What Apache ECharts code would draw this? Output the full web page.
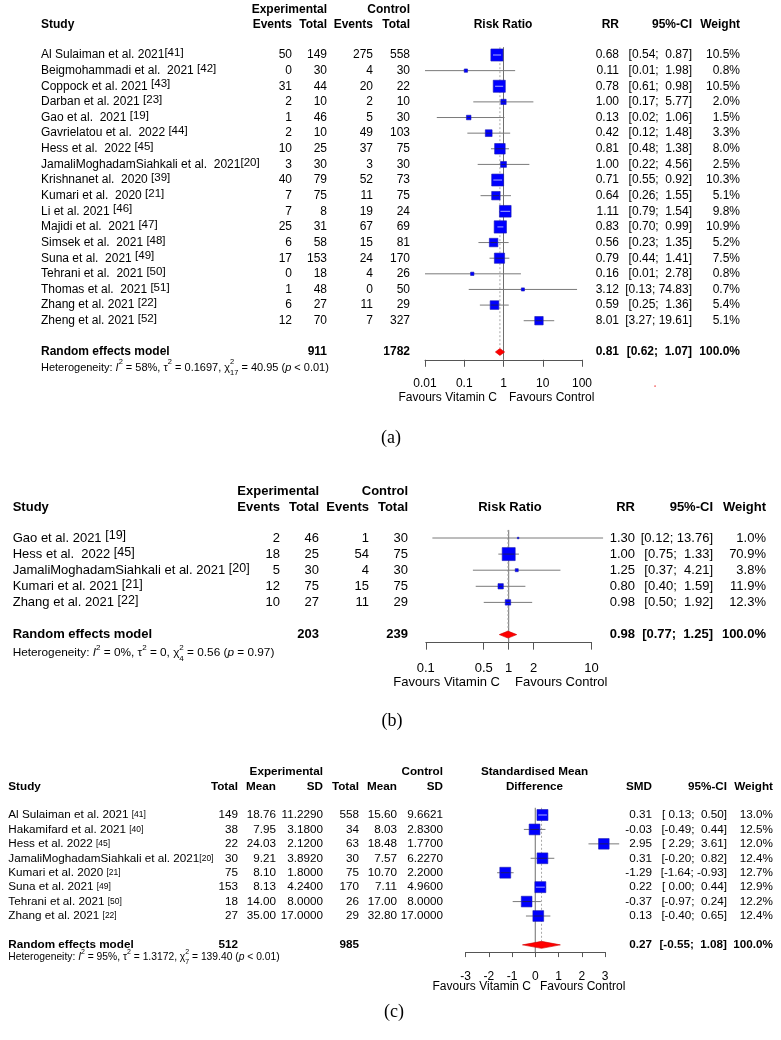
<!DOCTYPE html>
<html><head><meta charset="utf-8">
<script src="https://cdn.jsdelivr.net/npm/echarts@6/dist/echarts.min.js"></script>
<style>html,body{margin:0;padding:0;background:#fff}#c{width:781px;height:1040px}</style>
</head><body><div id="c"></div>
<script>
// ================= DATA =================
// ---- Panel (a): mortality, risk ratio
const aStudies = ["Al Sulaiman et al. 2021","Beigmohammadi et al.  2021 ","Coppock et al. 2021 ","Darban et al. 2021 ","Gao et al.  2021 ","Gavrielatou et al.  2022 ","Hess et al.  2022 ","JamaliMoghadamSiahkali et al.  2021","Krishnanet al.  2020 ","Kumari et al.  2020 ","Li et al. 2021 ","Majidi et al.  2021 ","Simsek et al.  2021 ","Suna et al.  2021 ","Tehrani et al.  2021 ","Thomas et al.  2021 ","Zhang et al. 2021 ","Zheng et al. 2021 "];
const aRefs = ["[41]","[42]","[43]","[23]","[19]","[44]","[45]","[20]","[39]","[21]","[46]","[47]","[48]","[49]","[50]","[51]","[22]","[52]"];
const aExpEvents = [50,0,31,2,1,2,10,3,40,7,7,25,6,17,0,1,6,12];
const aExpTotal  = [149,30,44,10,46,10,25,30,79,75,8,31,58,153,18,48,27,70];
const aCtrlEvents= [275,4,20,2,5,49,37,3,52,11,19,67,15,24,4,0,11,7];
const aCtrlTotal = [558,30,22,10,30,103,75,30,73,75,24,69,81,170,26,50,29,327];
const aRR   = [0.68,0.11,0.78,1.00,0.13,0.42,0.81,1.00,0.71,0.64,1.11,0.83,0.56,0.79,0.16,3.12,0.59,8.01];
const aLow  = [0.54,0.01,0.61,0.17,0.02,0.12,0.48,0.22,0.55,0.26,0.79,0.70,0.23,0.44,0.01,0.13,0.25,3.27];
const aHigh = [0.87,1.98,0.98,5.77,1.06,1.48,1.38,4.56,0.92,1.55,1.54,0.99,1.35,1.41,2.78,74.83,1.36,19.61];
const aWeight = [10.5,0.8,10.5,2.0,1.5,3.3,8.0,2.5,10.3,5.1,9.8,10.9,5.2,7.5,0.8,0.7,5.4,5.1];
const aPooled = [0.81,0.62,1.07];
const aTotals = [911,1782];
const aHet = {i2:58, tau2:0.1697, df:17, chi2:40.95, p:"< 0.01"};
const aTicks = [0.01,0.1,1,10,100];

// ---- Panel (b): risk ratio
const bStudies = ["Gao et al. 2021 ","Hess et al.  2022 ","JamaliMoghadamSiahkali et al. 2021 ","Kumari et al. 2021 ","Zhang et al. 2021 "];
const bRefs = ["[19]","[45]","[20]","[21]","[22]"];
const bExpEvents = [2,18,5,12,10];
const bExpTotal  = [46,25,30,75,27];
const bCtrlEvents= [1,54,4,15,11];
const bCtrlTotal = [30,75,30,75,29];
const bRR   = [1.30,1.00,1.25,0.80,0.98];
const bLow  = [0.12,0.75,0.37,0.40,0.50];
const bHigh = [13.76,1.33,4.21,1.59,1.92];
const bWeight = [1.0,70.9,3.8,11.9,12.3];
const bPooled = [0.98,0.77,1.25];
const bTotals = [203,239];
const bHet = {i2:0, tau2:0, df:4, chi2:0.56, p:"= 0.97"};
const bTicks = [0.1,0.5,1,2,10];

// ---- Panel (c): standardised mean difference
const cStudies = ["Al Sulaiman et al. 2021 ","Hakamifard et al. 2021 ","Hess et al. 2022 ","JamaliMoghadamSiahkali et al. 2021","Kumari et al. 2020 ","Suna et al. 2021 ","Tehrani et al. 2021 ","Zhang et al. 2021 "];
const cRefs = ["[41]","[40]","[45]","[20]","[21]","[49]","[50]","[22]"];
const cExpTotal = [149,38,22,30,75,153,18,27];
const cExpMean  = [18.76,7.95,24.03,9.21,8.10,8.13,14.00,35.00];
const cExpSD    = [11.2290,3.1800,2.1200,3.8920,1.8000,4.2400,8.0000,17.0000];
const cCtrlTotal= [558,34,63,30,75,170,26,29];
const cCtrlMean = [15.60,8.03,18.48,7.57,10.70,7.11,17.00,32.80];
const cCtrlSD   = [9.6621,2.8300,1.7700,6.2270,2.2000,4.9600,8.0000,17.0000];
const cSMD  = [0.31,-0.03,2.95,0.31,-1.29,0.22,-0.37,0.13];
const cLow  = [0.13,-0.49,2.29,-0.20,-1.64,0.00,-0.97,-0.40];
const cHigh = [0.50,0.44,3.61,0.82,-0.93,0.44,0.24,0.65];
const cWeight = [13.0,12.5,12.0,12.4,12.7,12.9,12.2,12.4];
const cPooled = [0.27,-0.55,1.08];
const cTotals = [512,985];
const cHet = {i2:95, tau2:1.3172, df:7, chi2:139.40, p:"< 0.01"};
const cTicks = [-3,-2,-1,0,1,2,3];

// ================= LAYOUT / STYLE =================
const SANS = "'Liberation Sans', Arial, Helvetica, sans-serif";
const SERIF = "'Liberation Serif', 'Times New Roman', serif";
const LA = {y0:55, h:15.63, fs:12, hetFs:11, favFs:12, studyX:41, hdr1:-2.88, hdr2:-1.92, pooledRow:19, axisRow:19.5,
  hetRow:20, favRow:21.95, capRow:24.5, capX:391, tmin:-3.5, tmax:26, refSize:11.5, padLo:false,
  cols:{ev1:292, tot1:327, ev2:373, tot2:410, est:619, ciR:692, wt:740},
  hdrPlotX:503, favL:497, favR:509, maxBox:12.3, dh:3.5,
  plot:{left:425, width:157, min:-2, max:2, tickLen:7, margin:18, fs:12}};
const LB = {y0:538, h:16.1, fs:13, hetFs:11.8, favFs:13, studyX:12.7, hdr1:-2.92, hdr2:-1.93, pooledRow:6, axisRow:6.5,
  hetRow:7.14, favRow:9.0, capRow:11.4, capX:392, tmin:-3.5, tmax:13, refSize:12.5, padLo:false,
  cols:{ev1:280, tot1:319, ev2:369, tot2:408, est:635, ciR:713, wt:766},
  hdrPlotX:510, favL:500, favR:515, maxBox:13, dh:3.5,
  plot:{left:425.8, width:165.8, min:-1, max:1, tickLen:7, margin:19, fs:13}};
const LC = {y0:815, h:14.43, fs:11.7, hetFs:10.3, favFs:12, studyX:8.3, hdr1:-2.98, hdr2:-1.94, pooledRow:9, axisRow:9.5,
  hetRow:9.84, favRow:11.92, capRow:13.65, capX:394, tmin:-3.5, tmax:15.5, refSize:8.5, padLo:true,
  cols:{tot1:238, mean1:276, sd1:323, tot2:359, mean2:397, sd2:443, est:652, ciR:727, wt:773},
  hdrPlotX:534.5, favL:531, favR:540, maxBox:11, dh:3.5,
  plot:{left:465.5, width:139.5, min:-3, max:3, tickLen:5, margin:19, fs:12}};

const log10 = v => Math.log10(v);
const ident = v => v;
const f2 = v => v.toFixed(2);
const fmtTau = v => v === 0 ? "0" : v.toFixed(4);
function ciText(L, lo, hi){
  const l = L.padLo ? f2(lo).padStart(5, ' ') : f2(lo);
  return '[' + l + '; ' + f2(hi).padStart(5, ' ') + ']';
}
function hetText(h){
  return "Heterogeneity: {it|I}{sup|2} = " + h.i2 + "%, \u03c4{sup|2} = " + fmtTau(h.tau2) +
    ", \u03c7{sup0|2}{sub|" + h.df + "} = " + h.chi2.toFixed(2) + " ({it|p} " + h.p + ")";
}

// ================= CELLS =================
function makeAdder(L, cells){
  return (x,row,text,o) => cells.push(Object.assign({x:x,row:row,text:text,align:'right',size:L.fs,bold:false}, o||{}));
}
function commonTail(L, add, het, caption){
  add(L.studyX, L.hetRow, hetText(het), {align:'left', size:L.hetFs, rich:'het'});
  add(L.favL, L.favRow, 'Favours Vitamin C', {size:L.favFs});
  add(L.favR, L.favRow, 'Favours Control', {align:'left', size:L.favFs});
  add(L.capX, L.capRow, caption, {align:'center', family:SERIF, size:18});
}
function estCells(L, add, i, est, lo, hi, w, bold){
  const c = L.cols, o = bold ? {bold:true} : {};
  add(c.est, i, f2(est), o);
  add(c.ciR, i, ciText(L, lo, hi), o);
  add(c.wt, i, w.toFixed(1) + '%', o);
}
function rrCells(L, d){
  const cells = [], add = makeAdder(L, cells), c = L.cols, B = {bold:true};
  add(c.tot1, L.hdr1, 'Experimental', B); add(c.tot2, L.hdr1, 'Control', B);
  add(L.studyX, L.hdr2, 'Study', {bold:true, align:'left'});
  add(c.ev1, L.hdr2, 'Events', B); add(c.tot1, L.hdr2, 'Total', B);
  add(c.ev2, L.hdr2, 'Events', B); add(c.tot2, L.hdr2, 'Total', B);
  add(L.hdrPlotX, L.hdr2, 'Risk Ratio', {bold:true, align:'center'});
  add(c.est, L.hdr2, 'RR', B); add(c.ciR, L.hdr2, '95%-CI', B); add(c.wt, L.hdr2, 'Weight', B);
  d.names.forEach((n,i) => {
    add(L.studyX, i, n + '{ref|' + d.refs[i] + '}', {align:'left', rich:'ref'});
    add(c.ev1, i, String(d.e1[i])); add(c.tot1, i, String(d.n1[i]));
    add(c.ev2, i, String(d.e2[i])); add(c.tot2, i, String(d.n2[i]));
    estCells(L, add, i, d.est[i], d.lo[i], d.hi[i], d.w[i], false);
  });
  const r = L.pooledRow;
  add(L.studyX, r, 'Random effects model', {bold:true, align:'left'});
  add(c.tot1, r, String(d.totals[0]), B); add(c.tot2, r, String(d.totals[1]), B);
  estCells(L, add, r, d.pooled[0], d.pooled[1], d.pooled[2], 100, true);
  commonTail(L, add, d.het, d.caption);
  return cells;
}
function smdCells(L, d){
  const cells = [], add = makeAdder(L, cells), c = L.cols, B = {bold:true};
  add(c.sd1, L.hdr1, 'Experimental', B); add(c.sd2, L.hdr1, 'Control', B);
  add(L.hdrPlotX, L.hdr1, 'Standardised Mean', {bold:true, align:'center'});
  add(L.studyX, L.hdr2, 'Study', {bold:true, align:'left'});
  add(c.tot1, L.hdr2, 'Total', B); add(c.mean1, L.hdr2, 'Mean', B); add(c.sd1, L.hdr2, 'SD', B);
  add(c.tot2, L.hdr2, 'Total', B); add(c.mean2, L.hdr2, 'Mean', B); add(c.sd2, L.hdr2, 'SD', B);
  add(L.hdrPlotX, L.hdr2, 'Difference', {bold:true, align:'center'});
  add(c.est, L.hdr2, 'SMD', B); add(c.ciR, L.hdr2, '95%-CI', B); add(c.wt, L.hdr2, 'Weight', B);
  d.names.forEach((n,i) => {
    add(L.studyX, i, n + '{ref|' + d.refs[i] + '}', {align:'left', rich:'ref'});
    add(c.tot1, i, String(d.n1[i])); add(c.mean1, i, f2(d.m1[i])); add(c.sd1, i, d.s1[i].toFixed(4));
    add(c.tot2, i, String(d.n2[i])); add(c.mean2, i, f2(d.m2[i])); add(c.sd2, i, d.s2[i].toFixed(4));
    estCells(L, add, i, d.est[i], d.lo[i], d.hi[i], d.w[i], false);
  });
  const r = L.pooledRow;
  add(L.studyX, r, 'Random effects model', {bold:true, align:'left'});
  add(c.tot1, r, String(d.totals[0]), B); add(c.tot2, r, String(d.totals[1]), B);
  estCells(L, add, r, d.pooled[0], d.pooled[1], d.pooled[2], 100, true);
  commonTail(L, add, d.het, d.caption);
  return cells;
}

const A = {names:aStudies, refs:aRefs, e1:aExpEvents, n1:aExpTotal, e2:aCtrlEvents, n2:aCtrlTotal,
  est:aRR, lo:aLow, hi:aHigh, w:aWeight, pooled:aPooled, totals:aTotals, het:aHet, caption:'(a)', ticks:aTicks, tx:log10, nullVal:1};
const Bd = {names:bStudies, refs:bRefs, e1:bExpEvents, n1:bExpTotal, e2:bCtrlEvents, n2:bCtrlTotal,
  est:bRR, lo:bLow, hi:bHigh, w:bWeight, pooled:bPooled, totals:bTotals, het:bHet, caption:'(b)', ticks:bTicks, tx:log10, nullVal:1};
const Cd = {names:cStudies, refs:cRefs, n1:cExpTotal, m1:cExpMean, s1:cExpSD, n2:cCtrlTotal, m2:cCtrlMean, s2:cCtrlSD,
  est:cSMD, lo:cLow, hi:cHigh, w:cWeight, pooled:cPooled, totals:cTotals, het:cHet, caption:'(c)', ticks:cTicks, tx:ident, nullVal:0};

const panels = [
  {L:LA, d:A, cells:rrCells(LA, A)},
  {L:LB, d:Bd, cells:rrCells(LB, Bd)},
  {L:LC, d:Cd, cells:smdCells(LC, Cd)}
];
// stray red dot visible in panel (a)
panels[0].cells.push({x:655, row:21.18, text:'\u25cf', align:'center', size:3.5, color:'#f03030'});

// ================= SERIES BUILDERS =================
function textSeries(ai, cells, L){
  return {type:'custom', xAxisIndex:ai, yAxisIndex:ai, clip:false, silent:true, z:6, encode:{x:0, y:1},
    data: cells.map(c => [c.x, c.row]),
    renderItem: function(params, api){
      const c = cells[params.dataIndex];
      const p = api.coord([api.value(0), api.value(1)]);
      const st = {text:c.text, fill:c.color || '#000', fontFamily:c.family || SANS, fontSize:c.size,
        fontWeight:c.bold ? 'bold' : 'normal', align:c.align, verticalAlign:'middle', legacy:false};
      if (c.rich === 'ref') {
        st.lineHeight = c.size + 4;
        st.rich = {ref:{fontFamily:SANS, fontSize:L.refSize, lineHeight:L.refSize, fill:'#000',
          verticalAlign: L.refSize < c.size - 2 ? 'middle' : 'top'}};
      } else if (c.rich === 'het') {
        const s = c.size, ss = s * 0.68;
        st.lineHeight = s * 1.6;
        st.rich = {
          it:{fontFamily:SANS, fontSize:s, fontStyle:'italic', lineHeight:s*1.6, fill:'#000'},
          sup:{fontFamily:SANS, fontSize:ss, lineHeight:ss*1.1, verticalAlign:'top', fill:'#000'},
          sup0:{fontFamily:SANS, fontSize:ss, lineHeight:ss*1.1, verticalAlign:'top', width:0, fill:'#000'},
          sub:{fontFamily:SANS, fontSize:ss, lineHeight:ss*1.1, verticalAlign:'bottom', fill:'#000'}
        };
      }
      return {type:'text', x:p[0], y:p[1], style:st};
    }};
}
function refLineSeries(ai, P){
  const L = P.L, d = P.d;
  const lines = [[d.tx(d.nullVal), -0.5, L.axisRow, 0], [d.tx(d.pooled[0]), -0.5, L.pooledRow - 0.25, 1]];
  return {type:'custom', xAxisIndex:ai, yAxisIndex:ai, clip:false, silent:true, z:2, encode:{x:0, y:1},
    data: lines,
    renderItem: function(params, api){
      const a = api.coord([api.value(0), api.value(1)]);
      const b = api.coord([api.value(0), api.value(2)]);
      const dashed = api.value(3) === 1;
      return {type:'line', shape:{x1:a[0], y1:a[1], x2:b[0], y2:b[1]},
        style:{stroke: dashed ? '#a8a8a8' : '#6e6e6e', lineWidth:1, lineDash: dashed ? [2,2] : null}};
    }};
}
function forestSeries(ai, P){
  const L = P.L, d = P.d, wmax = Math.max.apply(null, d.w);
  const data = d.est.map((e,i) => [d.tx(e), d.tx(d.lo[i]), d.tx(d.hi[i]), i, d.w[i]]);
  return {type:'custom', xAxisIndex:ai, yAxisIndex:ai, clip:false, silent:true, z:4, encode:{x:[0,1,2], y:3},
    data: data,
    renderItem: function(params, api){
      const row = api.value(3);
      const pe = api.coord([api.value(0), row]);
      const pl = api.coord([api.value(1), row]);
      const ph = api.coord([api.value(2), row]);
      const s = L.maxBox * Math.sqrt(api.value(4) / wmax);
      const x0 = pe[0] - s/2, x1 = pe[0] + s/2;
      const inside = pl[0] >= x0 && ph[0] <= x1;
      const kids = [
        {type:'line', shape:{x1:pl[0], y1:pe[1], x2:ph[0], y2:pe[1]}, style:{stroke:'#7a7a7a', lineWidth:1}},
        {type:'rect', shape:{x:x0, y:pe[1]-s/2, width:s, height:s}, style:{fill:'#0000ff', stroke:'#1a1ab0', lineWidth:0.6}}
      ];
      if (s > 4) {
        kids.push({type:'line', shape:{x1:Math.max(pl[0], x0+1), y1:pe[1], x2:Math.min(ph[0], x1-1), y2:pe[1]},
          style:{stroke: inside ? '#d8d8ff' : '#222244', lineWidth:0.8}});
      }
      return {type:'group', children:kids};
    }};
}
function diamondSeries(ai, P){
  const L = P.L, d = P.d;
  return {type:'custom', xAxisIndex:ai, yAxisIndex:ai, clip:false, silent:true, z:5, encode:{x:[0,1,2], y:3},
    data: [[d.tx(d.pooled[0]), d.tx(d.pooled[1]), d.tx(d.pooled[2]), L.pooledRow]],
    renderItem: function(params, api){
      const row = api.value(3);
      const pe = api.coord([api.value(0), row]);
      const pl = api.coord([api.value(1), row]);
      const ph = api.coord([api.value(2), row]);
      return {type:'polygon', shape:{points:[[pl[0],pe[1]],[pe[0],pe[1]-L.dh],[ph[0],pe[1]],[pe[0],pe[1]+L.dh]]},
        style:{fill:'#ff0000', stroke:'#d00000', lineWidth:0.6}};
    }};
}

// ================= OPTION =================
const grids = [], xAxes = [], yAxes = [], series = [];
function gridRows(L, rmin, rmax, left, width){
  return {left:left, width:width, top:L.y0 + rmin*L.h, height:(rmax - rmin)*L.h,
    containLabel:false, outerBoundsMode:'none', show:false};
}
panels.forEach((P, pi) => {
  const L = P.L, d = P.d, ti = pi*2, pl = pi*2 + 1;
  grids.push(gridRows(L, L.tmin, L.tmax, 0, 781));
  grids.push(gridRows(L, -0.5, L.axisRow, L.plot.left, L.plot.width));
  xAxes.push({type:'value', gridIndex:ti, min:0, max:781, show:false});
  yAxes.push({type:'value', gridIndex:ti, min:L.tmin, max:L.tmax, inverse:true, show:false});
  const tickVals = d.ticks.map(d.tx);
  const isLog = d.tx === log10;
  xAxes.push({type:'value', gridIndex:pl, min:L.plot.min, max:L.plot.max, position:'bottom',
    axisLine:{show:true, onZero:false, lineStyle:{color:'#555', width:1}},
    axisTick:{show:true, inside:false, length:L.plot.tickLen, customValues:tickVals, lineStyle:{color:'#555', width:1}},
    axisLabel:{show:true, customValues:tickVals, margin:L.plot.margin, fontSize:L.plot.fs, fontFamily:SANS, color:'#000',
      showMinLabel:true, showMaxLabel:true, hideOverlap:false,
      formatter: v => isLog ? String(parseFloat(Math.pow(10, v).toPrecision(3))) : String(Math.round(v))},
    splitLine:{show:false}});
  yAxes.push({type:'value', gridIndex:pl, min:-0.5, max:L.axisRow, inverse:true, show:false});
  series.push(textSeries(ti, P.cells, L));
  series.push(refLineSeries(pl, P));
  series.push(forestSeries(pl, P));
  series.push(diamondSeries(pl, P));
});

const chart = echarts.init(document.getElementById('c'), null, {renderer:'canvas'});
chart.setOption({
  animation:false,
  backgroundColor:'#ffffff',
  textStyle:{fontFamily:SANS},
  grid:grids, xAxis:xAxes, yAxis:yAxes, series:series
});
</script></body></html>
